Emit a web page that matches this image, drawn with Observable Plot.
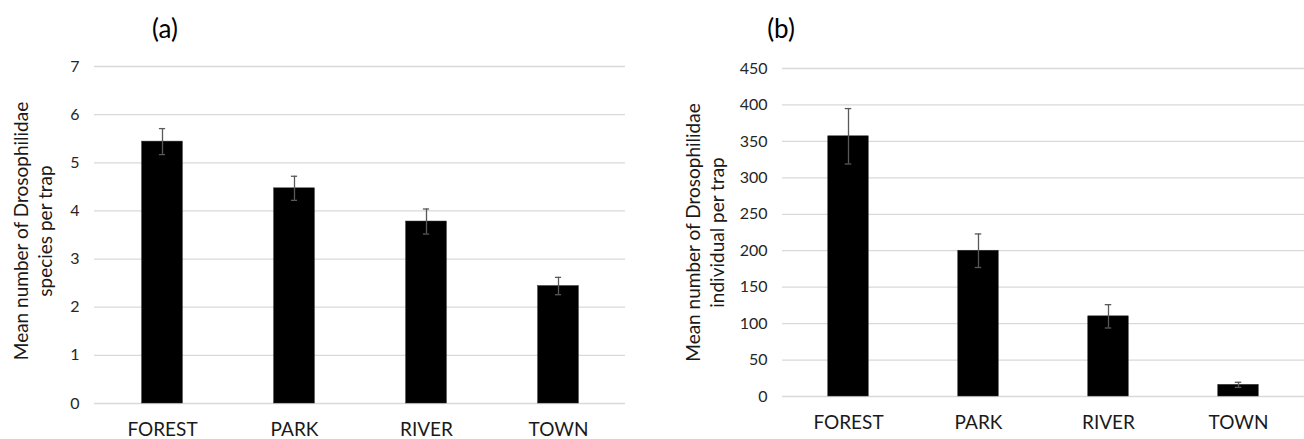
<!DOCTYPE html>
<html>
<head>
<meta charset="utf-8">
<script src="https://cdn.jsdelivr.net/npm/d3@7"></script>
<script src="https://cdn.jsdelivr.net/npm/@observablehq/plot@0.6"></script>
<style>
  html, body { margin: 0; padding: 0; background: #fff; }
  #wrap { position: relative; width: 1304px; height: 439px; overflow: hidden; font-family: Lato, "Open Sans", sans-serif; }
  .panel { position: absolute; top: 0; }
  .ptitle { position: absolute; top: 12px; font-size: 26px; color: #000; transform: translateX(-50%); line-height: 32px; }
</style>
</head>
<body>
<div id="wrap"></div>
<script>
const categories = ["FOREST", "PARK", "RIVER", "TOWN"];
const speciesMean = [5.44, 4.47, 3.78, 2.44];
const speciesErr = [0.27, 0.25, 0.26, 0.18];
const individualMean = [357, 200, 110, 16];
const individualErr = [38, 23, 16, 3.5];
const speciesTicks = [0, 1, 2, 3, 4, 5, 6, 7];
const individualTicks = [0, 50, 100, 150, 200, 250, 300, 350, 400, 450];
const panelTitles = ["(a)", "(b)"];
const yTitles = ["Mean number of Drosophilidae\nspecies per trap", "Mean number of Drosophilidae\nindividual per trap"];

const FONT = "Lato, 'Open Sans', sans-serif";

function makePanel({means, errs, ticks, yMax, yTitle, width, height, mL, mR, mT, mB, titleDx, titleDy, barInset, capInset}) {
  const rows = categories.map((c, i) => ({cat: c, mean: means[i], lo: means[i] - errs[i], hi: means[i] + errs[i]}));
  return Plot.plot({
    width, height,
    marginLeft: mL, marginRight: mR, marginTop: mT, marginBottom: mB,
    style: {fontFamily: FONT, background: "#fff", overflow: "visible"},
    x: {domain: categories, padding: 0, label: null},
    y: {domain: [0, yMax], label: null},
    marks: [
      Plot.gridY(ticks, {stroke: "#d9d9d9", strokeOpacity: 1, strokeWidth: 1.3}),
      Plot.axisY(ticks, {tickSize: 0, tickPadding: 15, fontSize: 16, fill: "#262626", label: null}),
      Plot.axisX({tickSize: 0, tickPadding: 19, fontSize: 19, fill: "#1a1a1a", label: null}),
      Plot.barY(rows, {x: "cat", y: "mean", fill: "#000", stroke: "#333", strokeWidth: 0.5, insetLeft: barInset, insetRight: barInset}),
      Plot.ruleX(rows, {x: "cat", y1: "lo", y2: "hi", stroke: "#595959", strokeWidth: 1.3}),
      Plot.tickY(rows, {x: "cat", y: "lo", stroke: "#595959", strokeWidth: 1.3, insetLeft: capInset, insetRight: capInset}),
      Plot.tickY(rows, {x: "cat", y: "hi", stroke: "#595959", strokeWidth: 1.3, insetLeft: capInset, insetRight: capInset}),
      Plot.text([yTitle], {frameAnchor: "left", text: d => d, rotate: -90, dx: titleDx, dy: titleDy, fontSize: 19, fill: "#1a1a1a", lineHeight: 1.28, textAnchor: "middle", lineAnchor: "middle"})
    ]
  });
}

const wrap = document.getElementById("wrap");

const a = makePanel({means: speciesMean, errs: speciesErr, ticks: speciesTicks, yMax: 7, yTitle: yTitles[0],
  width: 652, height: 439, mL: 94, mR: 27, mT: 66, mB: 36, titleDx: -62, titleDy: -4, barInset: 45.6, capInset: 62.9});
const pa = document.createElement("div"); pa.className = "panel"; pa.style.left = "0px"; pa.appendChild(a); wrap.appendChild(pa);

const b = makePanel({means: individualMean, errs: individualErr, ticks: individualTicks, yMax: 450, yTitle: yTitles[1],
  width: 652, height: 439, mL: 130, mR: 0, mT: 68, mB: 43, titleDx: -78, titleDy: 0, barInset: 44.75, capInset: 61.75});
const pb = document.createElement("div"); pb.className = "panel"; pb.style.left = "652px"; pb.appendChild(b); wrap.appendChild(pb);

[[panelTitles[0], 165], [panelTitles[1], 781]].forEach(([t, x]) => {
  const d = document.createElement("div"); d.className = "ptitle"; d.textContent = t; d.style.left = x + "px"; wrap.appendChild(d);
});
</script>
</body>
</html>
